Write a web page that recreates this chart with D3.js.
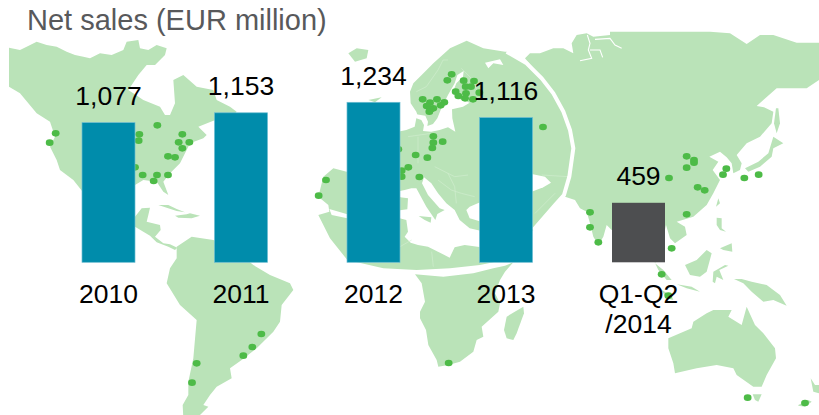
<!DOCTYPE html>
<html><head><meta charset="utf-8">
<script src="https://cdn.jsdelivr.net/npm/d3@7"></script>
<style>html,body{margin:0;padding:0;background:#fff}svg{display:block}text{font-family:"Liberation Sans",Arial,sans-serif}</style>
</head><body><svg id="c" width="819" height="415"></svg>
<script>
// ---- chart data
const categories = ["2010", "2011", "2012", "2013", "Q1-Q2\n/2014"];
const netSales = [1077, 1153, 1234, 1116, 459];
const valueLabels = ["1,077", "1,153", "1,234", "1,116", "459"];
const titleText = "Net sales (EUR million)";

// ---- map data (outlines traced in map units: 2457 x 1245 sheet)
const T = (ox, oy, pts) => pts.map(([x, y]) => [x + ox, y + oy]);
const A = [0, 0], B = [900, 60], C = [1680, 60], D = [0, 615], E = [900, 615], F = [1680, 615], G = [1194, 150], H = [1194, 480], I = [1590, 90], J = [1575, 450];
const rimLine = [[1520,155],[1580,190],[1625,235],[1660,280],[1690,335],[1710,390],[1720,445],[1708,530],[1692,585],[1665,615],[1600,690]];

const northAmerica = T(...A, [[27,143],[60,150],[80,140],[110,125],[140,135],[170,140],[200,155],[225,165],[250,170],[270,175],[300,160],[335,165],[370,150],[380,125],[415,120],[420,145],[445,150],[470,135],[500,145],[495,165],[465,195],[440,195],[415,225],[395,255],[385,270],[430,300],[480,320],[495,345],[510,345],[525,310],[520,240],[550,225],[590,260],[640,270],[650,300],[690,320],[710,335],[690,355],[640,362],[595,380],[620,405],[610,415],[570,430],[555,460],[540,490],[510,520],[490,545],[505,585],[490,575],[470,545],[430,540],[405,555],[330,600],[248,575],[220,540],[180,510],[170,480],[150,440],[165,410],[150,365],[110,340],[60,280],[27,260]]);
const centralAmerica = T(...D, [[380,30],[405,35],[425,10],[450,8],[445,30],[440,50],[480,60],[482,75],[465,95],[490,115],[510,118],[532,128],[525,135],[505,125],[470,112],[450,92],[405,65],[380,60]]);
const cuba = T(...D, [[475,0],[505,0],[530,12],[555,22],[530,18],[500,8]]);
const hispaniola = T(...D, [[525,32],[560,28],[570,25],[600,32],[575,40],[535,38]]);
const southAmerica = T(...D, [[530,125],[575,95],[640,105],[700,130],[760,180],[810,210],[870,235],[880,255],[845,300],[840,350],[820,380],[770,430],[725,465],[690,490],[695,520],[650,545],[630,570],[610,600],[625,605],[590,640],[550,640],[548,600],[565,570],[565,530],[580,460],[590,345],[540,300],[500,235],[510,190],[530,160]]);
const africa = T(...E, [[345,208],[430,215],[520,205],[580,190],[615,182],[640,172],[615,200],[600,225],[585,265],[600,295],[595,320],[545,365],[550,395],[530,405],[520,440],[480,470],[445,480],[415,485],[410,465],[385,420],[378,375],[360,340],[360,320],[375,290],[365,235]]);
const madagascar = T(...E, [[620,335],[670,305],[672,325],[650,385],[640,405],[620,400],[612,375]]);
const asia = [[1575,175]].concat(
  T(...I, [[0,70],[30,70],[70,55],[100,55],[130,70],[125,40],[140,15],[170,10],[190,20],[240,15],[240,5]]),
  T(...C, [[360,35],[450,35],[510,40],[560,72],[600,45],[640,45],[710,68],[790,68],[790,175],[777,180],[740,205],[700,205],[650,205],[610,240],[590,258],[612,262],[640,275],[635,310],[600,350],[560,370],[530,405],[545,430],[540,450],[520,460],[515,430],[500,412],[480,395],[448,410],[475,425],[458,450],[480,480],[460,520],[440,555]]),
  T(...F, [[400,35],[350,50],[375,65],[380,90],[345,115],[330,100],[318,60],[300,140],[285,175],[310,195],[335,225],[320,225],[295,195],[260,120],[200,60],[155,75]]),
  T(...J, [[245,225],[235,260],[220,285],[205,260],[195,220],[185,185],[165,175],[150,150],[120,140]]),
  [[1692,585],[1708,530],[1720,445],[1710,390],[1690,335],[1660,280],[1625,235]]
);
const japan = T(...C, [[640,350],[670,370],[640,385],[635,410],[600,440],[565,455],[555,445],[595,425],[625,400]]);
const sakhalin = T(...C, [[648,265],[655,265],[660,310],[650,340],[642,310]]);
const taiwan = T(...C, [[475,535],[480,550],[468,560]]);
const australia = T(...F, [[325,400],[395,370],[400,350],[440,325],[460,315],[515,315],[505,335],[545,360],[560,305],[585,360],[610,385],[645,430],[648,460],[620,510],[605,545],[580,545],[530,510],[520,490],[470,480],[410,490],[345,505],[340,475],[325,430]]);
const tasmania = T(...F, [[578,568],[605,568],[595,590],[585,585]]);
const nzSouth = T(...F, [[715,600],[745,585],[755,590],[735,605],[715,602]]);
const nzNorth = T(...F, [[752,520],[765,540],[777,540],[777,565],[760,560]]);
const sumatra = T(...F, [[305,255],[335,272],[340,285],[318,280]]);
const java = T(...F, [[350,238],[395,245],[420,260],[380,250]]);
const borneo = T(...F, [[375,180],[410,165],[440,135],[455,145],[440,200],[420,215],[390,210]]);
const sulawesi = T(...F, [[460,200],[495,180],[505,182],[478,195],[490,225],[470,215],[465,235],[458,230]]);
const luzon = T(...F, [[470,38],[485,40],[485,70],[498,80],[480,75],[470,60]]);
const mindanao = T(...F, [[480,130],[515,115],[517,140],[490,135]]);
const newGuinea = T(...F, [[522,222],[545,222],[575,230],[620,240],[660,270],[680,302],[640,285],[610,290],[575,260],[550,235]]);
const iceland = T(...B, [[145,100],[170,85],[205,90],[200,115],[165,125]]);
const scotland = T(...B, [[205,240],[245,232],[225,247]]);
const lensLand = T(...B, [[330,215],[340,190],[365,165],[400,130],[450,85],[500,62],[550,85],[615,95]]).concat(
  rimLine,
  T(...E, [[640,135],[580,172],[540,180],[450,190],[350,195],[250,190],[142,165],[90,100],[55,30],[88,20],[85,0]]),
  T(...B, [[55,530],[70,470],[100,445],[140,455],[200,420],[300,340]]),
  T(...G, [[0,245],[25,240],[50,230],[55,205],[60,200],[55,185],[38,160]])
);
const baltic = T(...G, [[50,192],[82,197],[90,215],[88,228],[105,222],[118,205],[130,175],[150,135],[170,100],[178,75],[197,63],[195,80],[175,100],[165,125],[178,145],[215,158],[195,170],[162,178],[163,205],[172,245],[150,232],[125,240],[100,245],[75,243],[78,225],[70,210],[55,205]]);
const whiteSea = T(...B, [[555,128],[600,118],[610,135],[580,130],[565,145]]);
const strait = T(...E, [[88,12],[142,28],[142,40],[95,30]]);
const mediterranean = T(...H, [[-5,95],[7,112],[30,115],[28,148],[-5,152],[5,175],[25,180],[30,215],[20,230],[38,248],[60,255],[90,260],[120,275],[155,293],[170,262],[200,255],[250,262],[260,215],[215,205],[185,180],[170,150],[145,130],[120,100],[100,70],[78,52],[72,70],[90,105],[125,145],[140,150],[118,162],[112,180],[85,140],[55,85],[40,85],[20,90]]);
const aegean = T(...H, [[250,125],[215,140],[205,150],[215,175],[250,185],[258,160]]);
const sicily = T(...H, [[62,168],[100,172],[98,188],[80,180]]);
const caspian = T(...J, [[20,72],[60,80],[78,98],[55,112],[20,125]]);
const landParts = [northAmerica, centralAmerica, cuba, hispaniola, southAmerica, africa, madagascar, asia, japan, sakhalin, taiwan, australia, tasmania, nzSouth, nzNorth, sumatra, java, borneo, sulawesi, luzon, mindanao, newGuinea, iceland, scotland, lensLand];
const seaParts = [baltic, whiteSea, strait, mediterranean, aegean, caspian];
const riverLines = [T(...I, [[172,15],[180,40],[175,60],[185,85],[150,92]]), T(...I, [[180,60],[210,60],[218,82]]), T(...I, [[195,28],[240,25],[255,45],[275,55]])];
const borderLines = [
  T(...H, [[110,20],[150,40],[170,50],[210,45]]), T(...H, [[120,60],[160,90],[190,100],[230,110]]), T(...H, [[150,40],[170,80],[175,130]]),
  T(...G, [[55,125],[85,110],[120,60],[135,30],[150,30]]), T(...G, [[190,55],[225,90],[240,130]]), T(...G, [[30,260],[100,250]]), T(...G, [[60,260],[60,340]]),
  T(...J, [[50,75],[130,80]]), T(...J, [[30,190],[90,130]]), T(...E, [[300,125],[335,105]]), T(...E, [[395,140],[400,185]])
];
const siteDots = [].concat(
  T(...A, [[167,400],[149,428],[418,403],[416,422],[472,376],[547,403],[536,427],[568,427],[547,445],[504,469],[525,472],[405,502],[428,525],[471,525],[504,525],[461,543]]),
  T(...D, [[784,387],[757,426],[730,452],[590,475],[576,533]]),
  T(...B, [[455,163],[442,181],[368,238],[390,248],[411,238],[433,247],[422,256],[380,258],[400,265],[392,268],[388,275],[491,182],[522,183],[497,200],[513,200],[467,215],[498,220],[475,228],[495,235],[519,238],[538,218],[400,349],[400,368],[428,365],[397,384],[347,405],[382,413],[325,442],[305,452],[305,470],[358,471],[295,388],[78,480],[56,527],[729,321]]),
  T(...E, [[446,474]]),
  T(...C, [[380,409],[402,420],[402,428],[380,443],[327,474],[413,502],[434,511],[499,446],[489,464],[553,474],[596,464],[380,583],[90,577]]),
  T(...F, [[90,67],[115,112],[335,130],[305,208],[325,272],[563,578],[735,594]])
);

// ---- drawing
const W = 819, H_ = 415;
const svg = d3.select("#c");
const mx = d3.scaleLinear().domain([0, 2457]).range([0, W]);
const my = d3.scaleLinear().domain([0, 1245]).range([0, H_]);
const outline = d3.line().x(d => mx(d[0])).y(d => my(d[1]));
const LAND = "#bae3b8", DOT = "#4dbb47", TEAL = "#008cab", GREY = "#4d4e50";

const map = svg.append("g");
map.selectAll("path.land").data(landParts).join("path").attr("class", "land")
  .attr("d", d => outline(d) + "Z").attr("fill", LAND);
map.selectAll("path.sea").data(seaParts).join("path").attr("class", "sea")
  .attr("d", d => outline(d) + "Z").attr("fill", "#fff");
map.append("path").attr("d", outline(sicily) + "Z").attr("fill", LAND);
map.selectAll("path.river").data(riverLines).join("path").attr("class", "river")
  .attr("d", outline).attr("fill", "none").attr("stroke", "#fff").attr("stroke-width", 1.1);
map.selectAll("path.border").data(borderLines).join("path").attr("class", "border")
  .attr("d", outline).attr("fill", "none").attr("stroke", "#d4eed2").attr("stroke-width", 0.6);
map.append("path").attr("d", outline(rimLine)).attr("fill", "none").attr("stroke", "#fff").attr("stroke-width", 4);
map.selectAll("ellipse").data(siteDots).join("ellipse")
  .attr("cx", d => mx(d[0])).attr("cy", d => my(d[1])).attr("rx", 3.9).attr("ry", 3.3).attr("fill", DOT);

const x = d3.scaleBand().domain(categories).range([42.25, 704.75]).paddingInner(0.6).paddingOuter(0.3);
const y = d3.scaleLinear().domain([0, 1234]).range([262.3, 102.3]);

svg.append("g").selectAll("rect").data(categories).join("rect")
  .attr("x", d => x(d)).attr("width", x.bandwidth())
  .attr("y", (d, i) => y(netSales[i])).attr("height", (d, i) => y(0) - y(netSales[i]))
  .attr("fill", (d, i) => i === 4 ? GREY : TEAL)
  .attr("stroke", (d, i) => i === 4 ? "none" : "#6cbcd2").attr("stroke-width", 0.7);

svg.append("g").selectAll("text").data(categories).join("text")
  .attr("x", d => x(d) + x.bandwidth() / 2)
  .attr("y", (d, i) => y(netSales[i]) - 17.5)
  .attr("text-anchor", "middle").attr("font-size", 26.5).attr("fill", "#000")
  .text((d, i) => valueLabels[i]);

const axis = svg.append("g").attr("transform", "translate(0,303.3)")
  .call(d3.axisBottom(x).tickSize(0));
axis.select(".domain").remove();
axis.selectAll("text").attr("y", 0).attr("dy", 0).attr("font-size", 26.5).attr("fill", "#000")
  .attr("style", "font-family:'Liberation Sans',Arial,sans-serif")
  .each(function (d) {
    const t = d3.select(this).text(null);
    d.split("\n").forEach((s, i) => t.append("tspan").attr("x", 0).attr("dy", i ? 30 : 0).text(s));
  });

svg.append("text").attr("x", 27).attr("y", 29.5).attr("font-size", 29).attr("fill", "#58595b").text(titleText);
</script></body></html>
